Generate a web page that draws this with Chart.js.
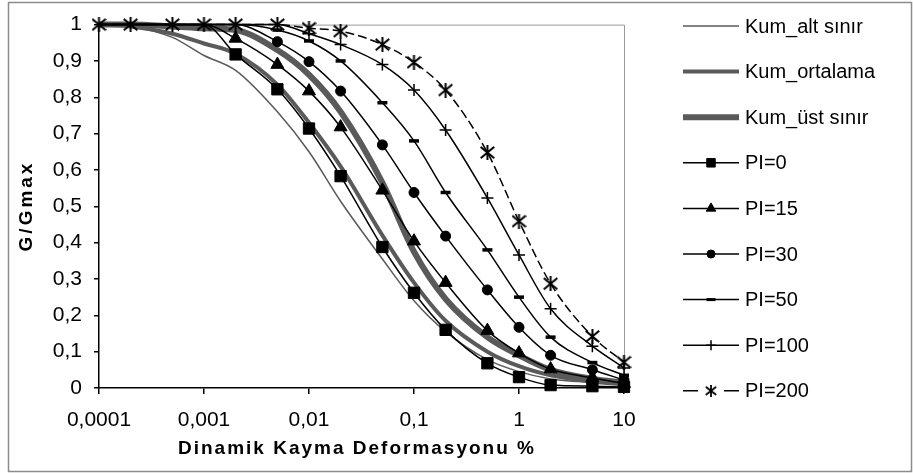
<!DOCTYPE html>
<html>
<head>
<meta charset="utf-8">
<script src="https://cdn.jsdelivr.net/npm/chart.js@4/dist/chart.umd.min.js"></script>
<style>
  body { margin: 0; background: #fff; }
  .chart { position: relative; width: 913px; height: 474px; }
</style>
</head>
<body>
<div class="chart"><canvas id="gChart"></canvas></div>
<script>
// strain values (%) shared by every series
const strains = [0.0001, 0.0002, 0.0005, 0.001, 0.002, 0.005, 0.01, 0.02, 0.05, 0.1, 0.2, 0.5, 1, 2, 5, 10];

const kumAltSinir = [1, 0.995, 0.965, 0.915, 0.874, 0.76, 0.65, 0.514, 0.355, 0.24, 0.155, 0.078, 0.045, 0.025, 0.015, 0.01];
const kumOrtalama = [1, 0.995, 0.975, 0.948, 0.92, 0.835, 0.73, 0.61, 0.42, 0.29, 0.185, 0.1, 0.06, 0.035, 0.018, 0.01];
const kumUstSinir = [1, 1, 0.995, 0.99, 0.985, 0.93, 0.862, 0.76, 0.565, 0.375, 0.245, 0.14, 0.09, 0.05, 0.025, 0.015];
const pi0 = [1, 1, 1, 1, 0.918, 0.822, 0.714, 0.583, 0.388, 0.262, 0.16, 0.068, 0.03, 0.008, 0.005, 0.003];
const pi15 = [1, 1, 1, 1, 0.962, 0.89, 0.817, 0.718, 0.544, 0.404, 0.29, 0.158, 0.096, 0.052, 0.028, 0.012];
const pi30 = [1, 1, 1, 1, 1, 0.953, 0.898, 0.817, 0.669, 0.538, 0.418, 0.27, 0.167, 0.09, 0.05, 0.022];
const pi50 = [1, 1, 1, 1, 1, 0.985, 0.955, 0.9, 0.785, 0.68, 0.538, 0.38, 0.25, 0.14, 0.07, 0.035];
const pi100 = [1, 1, 1, 1, 1, 1, 0.975, 0.945, 0.89, 0.82, 0.71, 0.523, 0.366, 0.218, 0.115, 0.055];
const pi200 = [1, 1, 1, 1, 1, 1, 0.99, 0.982, 0.945, 0.896, 0.82, 0.648, 0.459, 0.287, 0.142, 0.071];

const seriesNames = ["Kum_alt sınır", "Kum_ortalama", "Kum_üst sınır", "PI=0", "PI=15", "PI=30", "PI=50", "PI=100", "PI=200"];

const xTickValues = [0.0001, 0.001, 0.01, 0.1, 1, 10];
const xTickLabels = ["0,0001", "0,001", "0,01", "0,1", "1", "10"];
const yTickValues = [0, 0.1, 0.2, 0.3, 0.4, 0.5, 0.6, 0.7, 0.8, 0.9, 1];
const yTickLabels = ["0", "0,1", "0,2", "0,3", "0,4", "0,5", "0,6", "0,7", "0,8", "0,9", "1"];

const FONT = "'Liberation Sans', Arial, sans-serif";

// excel style asterisk marker (x with a vertical bar)
const makeAsterisk = function (size, lw) {
  const c = document.createElement("canvas");
  c.width = size;
  c.height = size;
  const g = c.getContext("2d");
  const m = 1.5, s = size - 1.5;
  g.strokeStyle = "#000";
  g.lineWidth = lw;
  g.lineCap = "square";
  g.beginPath();
  g.moveTo(m, m + 1); g.lineTo(s, s - 1);
  g.moveTo(s, m + 1); g.lineTo(m, s - 1);
  g.moveTo(size / 2, 0.5); g.lineTo(size / 2, size - 0.5);
  g.stroke();
  return c;
};
const asterisk = makeAsterisk(15, 2);
const asteriskSmall = makeAsterisk(12, 1.8);

const toPoints = (arr) => strains.map((x, i) => ({ x: x, y: arr[i] }));

// markers of a curve still sitting on 1 are not shown (except PI=200)
const hideOnOne = (r) => (ctx) => (ctx.raw && ctx.raw.y === 1 ? 0 : r);

const sand = (label, arr, width) => ({
  label: label,
  data: toPoints(arr),
  borderColor: "#5a5a5a",
  borderWidth: width,
  pointRadius: 0,
  order: 1,
});

const piLine = (label, arr, style, radius, bw, all) => ({
  label: label,
  data: toPoints(arr),
  borderColor: "#000",
  borderWidth: 1.5,
  pointStyle: style,
  pointRadius: all ? radius : hideOnOne(radius),
  pointBackgroundColor: "#000",
  pointBorderColor: "#000",
  pointBorderWidth: bw,
  order: 0,
});

const datasets = [
  sand(seriesNames[0], kumAltSinir, 1.5),
  sand(seriesNames[1], kumOrtalama, 4),
  sand(seriesNames[2], kumUstSinir, 6),
  piLine(seriesNames[3], pi0, "rect", 8, 1),
  piLine(seriesNames[4], pi15, "triangle", 7.5, 1),
  piLine(seriesNames[5], pi30, "circle", 5, 1),
  piLine(seriesNames[6], pi50, "line", 5, 3.5),
  piLine(seriesNames[7], pi100, "cross", 6, 1.5),
  piLine(seriesNames[8], pi200, asterisk, 7, 1, true),
];
datasets[8].borderDash = [9, 4];

const legendMarks = [
  null, null, null,
  { pointStyle: "rect", radius: 6, borderWidth: 1 },
  { pointStyle: "triangle", radius: 5.5, borderWidth: 1 },
  { pointStyle: "circle", radius: 4, borderWidth: 1 },
  { pointStyle: "line", radius: 4.5, borderWidth: 3 },
  { pointStyle: "cross", radius: 5, borderWidth: 1.5 },
  { pointStyle: asteriskSmall, radius: 5, borderWidth: 1 },
];

const framePlugin = {
  id: "frame",
  beforeDraw(chart) {
    const ctx = chart.ctx;
    ctx.save();
    ctx.fillStyle = "#fff";
    ctx.fillRect(0, 0, chart.width, chart.height);
    ctx.strokeStyle = "#8c8c8c";
    ctx.lineWidth = 1.5;
    ctx.strokeRect(8.5, 2.5, 903, 469);
    ctx.restore();
  },
  beforeDatasetsDraw(chart) {
    const { ctx, chartArea: a } = chart;
    ctx.save();
    ctx.strokeStyle = "#999";
    ctx.lineWidth = 1;
    ctx.beginPath();
    ctx.moveTo(a.left, a.top + 0.5);
    ctx.lineTo(a.right + 0.5, a.top + 0.5);
    ctx.lineTo(a.right + 0.5, a.bottom);
    ctx.stroke();
    ctx.restore();
  },
  afterDraw(chart) {
    const ctx = chart.ctx;
    ctx.save();
    // axis titles
    ctx.fillStyle = "#000";
    ctx.font = "bold 19px " + FONT;
    ctx.textAlign = "center";
    ctx.textBaseline = "middle";
    ctx.letterSpacing = "2px";
    ctx.fillText("Dinamik Kayma Deformasyonu %", 357, 449);
    ctx.translate(27, 206);
    ctx.rotate(-Math.PI / 2);
    ctx.letterSpacing = "3px";
    ctx.fillText("G/Gmax", 0, 0);
    ctx.restore();

    // legend
    ctx.save();
    ctx.font = "20px " + FONT;
    ctx.textBaseline = "middle";
    ctx.textAlign = "left";
    chart.data.datasets.forEach((ds, i) => {
      const y = 26 + i * 45.6;
      ctx.strokeStyle = ds.borderColor;
      ctx.lineWidth = ds.borderWidth;
      ctx.beginPath();
      if (ds.borderDash) {
        ctx.moveTo(683, y); ctx.lineTo(698, y);
        ctx.moveTo(724, y); ctx.lineTo(739, y);
      } else {
        ctx.moveTo(683, y); ctx.lineTo(739, y);
      }
      ctx.stroke();
      const mk = legendMarks[i];
      if (mk) {
        ctx.fillStyle = "#000";
        ctx.strokeStyle = "#000";
        ctx.lineWidth = mk.borderWidth;
        Chart.helpers.drawPoint(ctx, { pointStyle: mk.pointStyle, radius: mk.radius, rotation: 0, borderWidth: mk.borderWidth }, 711, y);
      }
      ctx.fillStyle = "#000";
      ctx.fillText(ds.label, 745, y + 1);
    });
    ctx.restore();
  },
};

new Chart(document.getElementById("gChart"), {
  type: "line",
  data: { datasets: datasets },
  options: {
    responsive: true,
    maintainAspectRatio: false,
    animation: false,
    events: [],
    datasets: { line: { tension: 0.35, cubicInterpolationMode: "monotone", clip: false } },
    layout: { padding: { top: 22, right: 289, bottom: 0, left: 0 } },
    plugins: { legend: { display: false }, tooltip: { enabled: false } },
    scales: {
      x: {
        type: "logarithmic",
        min: 0.0001,
        max: 10,
        afterBuildTicks: (s) => { s.ticks = xTickValues.map((v) => ({ value: v })); },
        afterFit: (s) => { s.height = 86; },
        ticks: {
          autoSkip: false,
          maxRotation: 0,
          padding: 14,
          color: "#000",
          font: { family: FONT, size: 21 },
          callback: (v, i) => xTickLabels[i],
        },
        grid: { drawOnChartArea: false, drawTicks: true, tickLength: 6, color: "#000", lineWidth: 1.5 },
        border: { color: "#000", width: 1.5 },
      },
      y: {
        min: 0,
        max: 1,
        afterBuildTicks: (s) => { s.ticks = yTickValues.map((v) => ({ value: v })); },
        afterFit: (s) => { s.width = 99; },
        ticks: {
          autoSkip: false,
          padding: 12,
          color: "#000",
          font: { family: FONT, size: 21 },
          callback: (v, i) => yTickLabels[i],
        },
        grid: { drawOnChartArea: false, drawTicks: true, tickLength: 5, color: "#000", lineWidth: 1.5 },
        border: { color: "#000", width: 1.5 },
      },
    },
  },
  plugins: [framePlugin],
});
</script>
</body>
</html>
